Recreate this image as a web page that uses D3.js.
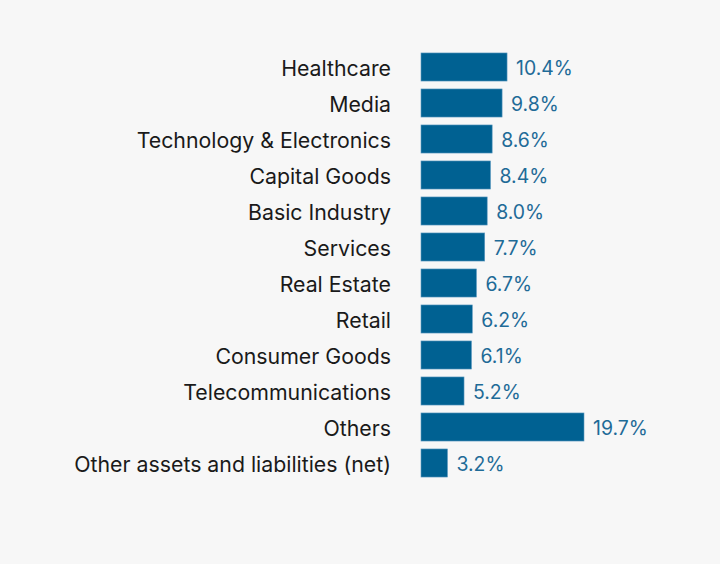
<!DOCTYPE html>
<html><head><meta charset="utf-8">
<script src="https://cdn.jsdelivr.net/npm/d3@7"></script>
<style>html,body{margin:0;padding:0;background:#f7f7f7;}</style>
</head><body>
<svg id="chart" width="720" height="564"></svg>
<script>
const categories = ["Healthcare","Media","Technology & Electronics","Capital Goods","Basic Industry","Services","Real Estate","Retail","Consumer Goods","Telecommunications","Others","Other assets and liabilities (net)"];
const values = [10.4,9.8,8.6,8.4,8.0,7.7,6.7,6.2,6.1,5.2,19.7,3.2];
const valueLabels = ["10.4%","9.8%","8.6%","8.4%","8.0%","7.7%","6.7%","6.2%","6.1%","5.2%","19.7%","3.2%"];

const svg = d3.select("#chart");
svg.append("rect").attr("width",720).attr("height",564).attr("fill","#f7f7f7");
const x = d3.scaleLinear().domain([0,19.7]).range([421,584]);
const y = d3.scaleBand().domain(categories).range([49,481]).paddingInner(0.22).paddingOuter(0.11);

const g = svg.append("g");
g.selectAll("rect.bar").data(categories).join("rect").attr("class","bar")
  .attr("x", x(0)).attr("y", d=>y(d)).attr("width", (d,i)=>x(values[i])-x(0)).attr("height", y.bandwidth())
  .attr("fill","#006192").attr("stroke","#5e9ac0").attr("stroke-width",0.6);
g.selectAll("text.cat").data(categories).join("text").attr("class","cat")
  .attr("x",391).attr("y",d=>y(d)+y.bandwidth()/2+1).attr("dy","0.36em").attr("text-anchor","end")
  .attr("font-family","Inter, 'Liberation Sans', sans-serif").attr("font-size",21.3).attr("fill","#1a1a1a").text(d=>d);
g.selectAll("text.val").data(categories).join("text").attr("class","val")
  .attr("x",(d,i)=>x(values[i])+9).attr("y",d=>y(d)+y.bandwidth()/2+1).attr("dy","0.36em")
  .attr("font-family","Inter, 'Liberation Sans', sans-serif").attr("font-size",19.4).attr("fill","#1f6b97").text((d,i)=>valueLabels[i]);
</script>
</body></html>
